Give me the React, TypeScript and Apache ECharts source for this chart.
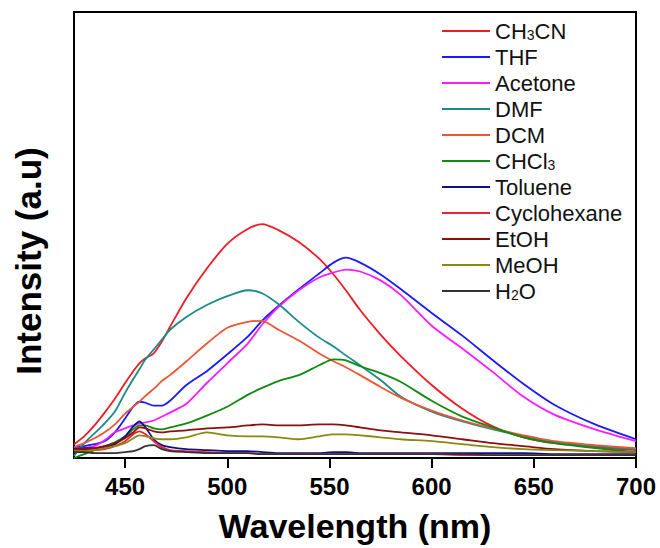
import React, { useEffect, useRef } from "react";
import * as echarts from "echarts";

const wavelengths = [425, 430, 435, 440, 445, 450, 454, 457, 460, 464, 468, 472, 480, 490, 500, 510, 517, 525, 535, 545, 552, 558, 565, 575, 585, 600, 615, 630, 645, 660, 680, 700];
const xTicks = [450, 500, 550, 600, 650, 700];

const ch3cn = [14, 22, 33, 46, 60, 76, 88, 96, 101, 106, 118, 133, 162, 192, 217, 232, 237, 231, 219, 202, 186, 170, 150, 125, 103, 74, 50, 32, 21, 15, 11, 8];
const thf = [11, 12, 14, 17, 26, 40, 52, 57, 56, 53, 53, 58, 74, 88, 105, 123, 139, 154, 171, 187, 198, 203, 198, 186, 171, 147, 124, 99, 75, 54, 34, 19];
const acetone = [8, 10, 12, 18, 26, 30, 33, 35, 36, 38, 42, 46, 55, 76, 96, 116, 135, 153, 170, 183, 188, 191, 189, 180, 165, 134, 111, 87, 62, 44, 29, 17];
const dmf = [2, 15, 25, 35, 47, 66, 80, 90, 100, 110, 120, 130, 143, 155, 164, 170, 167, 156, 138, 122, 113, 104, 94, 79, 62, 47, 37, 29, 22, 16, 12, 9];
const dcm = [11, 15, 20, 26, 34, 45, 52, 57, 63, 70, 78, 84, 98, 116, 132, 138, 139, 130, 119, 106, 98, 92, 84, 72, 61, 48, 38, 30, 23, 17, 13, 10];
const chcl3 = [0, 4, 8, 12, 16, 22, 29, 33, 33, 30, 29, 31, 35, 43, 52, 64, 71, 78, 84, 94, 100, 99, 93, 86, 77, 58, 42, 31, 21, 15, 10, 6];
const toluene = [9, 10, 10, 11, 14, 22, 32, 37, 31, 19, 13, 11, 9, 8, 7, 7, 6, 5, 5, 5, 6, 6, 5, 5, 5, 5, 5, 5, 5, 4, 4, 4];
const cyclohexane = [7, 8, 8, 9, 12, 17, 24, 27, 24, 17, 11, 8, 7, 6, 5, 5, 4, 4, 4, 4, 4, 4, 4, 4, 4, 4, 3, 3, 3, 3, 3, 3];
const etoh = [9, 9, 10, 12, 15, 20, 26, 31, 30, 27, 26, 27, 28, 30, 31, 33, 34, 33, 33, 34, 34, 33, 31, 28, 26, 23, 19, 15, 12, 9, 7, 6];
const meoh = [7, 7, 8, 10, 12, 15, 20, 23, 22, 20, 19, 19, 21, 26, 23, 22, 22, 21, 19, 22, 24, 24, 23, 21, 19, 17, 14, 11, 9, 8, 7, 6];
const h2o = [6, 6, 5, 5, 5, 6, 7, 9, 12, 13, 9, 7, 6, 5, 5, 5, 4, 4, 4, 4, 4, 4, 4, 4, 4, 4, 4, 3, 3, 3, 3, 3];

const seriesNames = ["CH3CN", "THF", "Acetone", "DMF", "DCM", "CHCl3", "Toluene", "Cyclohexane", "EtOH", "MeOH", "H2O"];
const seriesValues = [ch3cn, thf, acetone, dmf, dcm, chcl3, toluene, cyclohexane, etoh, meoh, h2o];
const seriesColors = ["#ee1c24", "#1a1aff", "#ff1aff", "#1a8a8a", "#ee5533", "#108a10", "#10108a", "#f0203a", "#8a1010", "#8a8a10", "#333333"];

const FONT = "'Liberation Sans', Arial, sans-serif";

export default function App() {
  const ref = useRef<HTMLDivElement>(null);
  useEffect(() => {
    if (!ref.current) return;
    const chart = echarts.init(ref.current, undefined, { renderer: "svg" });
    const series = seriesNames.map((name, i) => ({
      name,
      type: "line",
      data: wavelengths.map((w, j) => [w, seriesValues[i][j]]),
      showSymbol: false,
      smooth: 0.25,
      lineStyle: { width: 1.8, color: seriesColors[i] },
      itemStyle: { color: seriesColors[i] },
    }));
    chart.setOption({
      animation: false,
      backgroundColor: "#ffffff",
      grid: { left: 74, right: 24, top: 12, bottom: 84, show: true, borderColor: "#000", borderWidth: 2, backgroundColor: "transparent" },
      xAxis: {
        type: "value",
        min: 425,
        max: 700,
        name: "Wavelength (nm)",
        nameLocation: "middle",
        nameGap: 51,
        nameTextStyle: { fontFamily: FONT, fontWeight: "bold", fontSize: 34, color: "#000" },
        axisLine: { show: true, lineStyle: { color: "#000", width: 2 } },
        axisTick: { show: true, customValues: xTicks, length: 10, lineStyle: { color: "#000", width: 2 } },
        axisLabel: { customValues: xTicks, margin: 16, fontFamily: FONT, fontWeight: "bold", fontSize: 24, color: "#000" },
        splitLine: { show: false },
      },
      yAxis: {
        type: "value",
        min: 0,
        max: 452,
        axisLine: { show: false },
        axisTick: { show: false },
        axisLabel: { show: false },
        splitLine: { show: false },
      },
      legend: {
        orient: "vertical",
        left: 437,
        top: 15,
        icon: "rect",
        itemWidth: 48,
        itemHeight: 2,
        itemGap: 4,
        data: seriesNames,
        formatter: (name: string) => {
          if (name === "CH3CN") return "CH{s|3}CN";
          if (name === "CHCl3") return "CHCl{s|3}";
          if (name === "H2O") return "H{s|2}O";
          return name;
        },
        textStyle: {
          fontFamily: FONT,
          fontSize: 22,
          lineHeight: 22,
          color: "#111",
          rich: {
            s: { fontFamily: FONT, fontSize: 14, lineHeight: 22, color: "#111", verticalAlign: "bottom", padding: [0, 0, 0, 0] },
          },
        },
      },
      graphic: [
        {
          type: "text",
          x: 28,
          y: 261,
          rotation: Math.PI / 2,
          style: {
            text: "Intensity (a.u)",
            font: `bold 35px ${FONT}`,
            fill: "#000",
            textAlign: "center",
            textVerticalAlign: "middle",
          },
        },
      ],
      series,
    });
    return () => chart.dispose();
  }, []);
  return <div ref={ref} style={{ width: 660, height: 548, position: "absolute", left: 0, top: 0 }} />;
}
